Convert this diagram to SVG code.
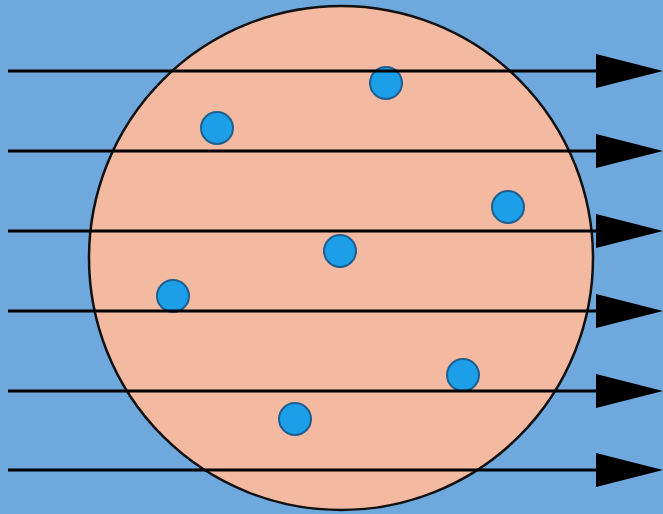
<svg xmlns="http://www.w3.org/2000/svg" width="663" height="514" viewBox="0 0 663 514">
<style>
.ray{stroke:#000;stroke-width:3;fill:none}
.head{fill:#000}
.dot{fill:#1c9fe8;stroke:#1f5f8f;stroke-width:2}
</style>
<rect x="0" y="0" width="663" height="514" fill="#6fa8dc"/>
<g id="sphere"><circle cx="341" cy="258" r="252" fill="#f4b9a1" stroke="#111" stroke-width="2.5"/></g>
<g id="particles">
<circle class="dot" cx="386" cy="83" r="16"/>
<circle class="dot" cx="217" cy="128" r="16"/>
<circle class="dot" cx="508" cy="207" r="16"/>
<circle class="dot" cx="340" cy="251" r="16"/>
<circle class="dot" cx="173" cy="296" r="16"/>
<circle class="dot" cx="463" cy="375" r="16"/>
<circle class="dot" cx="295" cy="419" r="16"/>
</g>
<g id="connectors">
<line class="ray" x1="8" y1="71" x2="600" y2="71"/><polygon class="head" points="596,54 663,71 596,88"/>
<line class="ray" x1="8" y1="151" x2="600" y2="151"/><polygon class="head" points="596,134 663,151 596,168"/>
<line class="ray" x1="8" y1="231" x2="600" y2="231"/><polygon class="head" points="596,214 663,231 596,248"/>
<line class="ray" x1="8" y1="311" x2="600" y2="311"/><polygon class="head" points="596,294 663,311 596,328"/>
<line class="ray" x1="8" y1="391" x2="600" y2="391"/><polygon class="head" points="596,374 663,391 596,408"/>
<line class="ray" x1="8" y1="470" x2="600" y2="470"/><polygon class="head" points="596,453 663,470 596,487"/>
</g>
</svg>
